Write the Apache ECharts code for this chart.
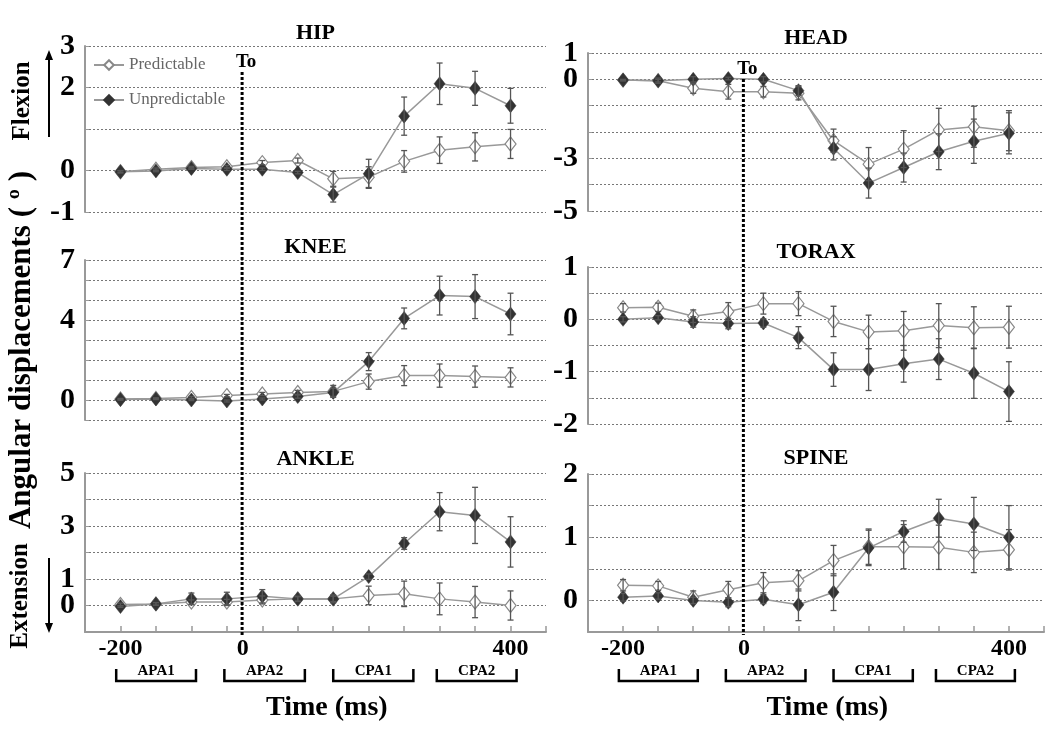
<!DOCTYPE html>
<html><head><meta charset="utf-8">
<script src="https://cdn.jsdelivr.net/npm/echarts@6/dist/echarts.min.js"></script>
<style>html,body{margin:0;padding:0;background:#fff}#c{width:1050px;height:738px}</style>
</head><body><div id="c"></div>
<script>
// ---- data ----
const samples = [0, 1, 2, 3, 4, 5, 6, 7, 8, 9, 10, 11];
const timeTickLabels = ['-200', '0', '400'];
const timeTickPos = [0, 3.45, 11];
const onsetPos = 3.43;
const phaseNames = ['APA1', 'APA2', 'CPA1', 'CPA2'];
const phaseStart = [-0.12, 2.93, 6.0, 8.92];
const phaseEnd = [2.13, 5.2, 8.26, 11.17];

const hipPred = [-0.03, 0.03, 0.07, 0.09, 0.19, 0.24, -0.2, -0.16, 0.22, 0.49, 0.57, 0.64];
const hipPredErr = [0.03, 0.03, 0.03, 0.03, 0.05, 0.06, 0.18, 0.25, 0.26, 0.32, 0.34, 0.35];
const hipUnp = [-0.03, -0.01, 0.05, 0.03, 0.03, -0.05, -0.58, -0.08, 1.31, 2.09, 1.98, 1.56];
const hipUnpErr = [0.02, 0.02, 0.02, 0.03, 0.03, 0.03, 0.18, 0.35, 0.46, 0.5, 0.41, 0.42];

const kneePred = [0.05, 0.08, 0.13, 0.22, 0.3, 0.38, 0.43, 0.92, 1.22, 1.22, 1.17, 1.13];
const kneePredErr = [0.03, 0.03, 0.05, 0.06, 0.08, 0.1, 0.3, 0.38, 0.5, 0.58, 0.53, 0.48];
const kneeUnp = [0.02, 0.05, 0, -0.05, 0.05, 0.17, 0.38, 1.92, 4.08, 5.22, 5.17, 4.3];
const kneeUnpErr = [0.03, 0.03, 0.03, 0.05, 0.05, 0.08, 0.2, 0.45, 0.52, 0.97, 1.1, 1.04];

const anklePred = [0.04, 0.06, 0.13, 0.13, 0.21, 0.25, 0.25, 0.38, 0.44, 0.25, 0.13, 0];
const anklePredErr = [0.05, 0.05, 0.08, 0.1, 0.15, 0.08, 0.1, 0.35, 0.48, 0.6, 0.59, 0.55];
const ankleUnp = [-0.04, 0.06, 0.25, 0.25, 0.35, 0.25, 0.25, 1.09, 2.34, 3.54, 3.4, 2.4];
const ankleUnpErr = [0.03, 0.05, 0.22, 0.25, 0.25, 0.1, 0.15, 0.1, 0.22, 0.72, 1.06, 0.95];

const headPred = [-0.03, -0.05, -0.34, -0.47, -0.47, -0.53, -2.33, -3.22, -2.65, -1.92, -1.8, -1.95];
const headPredErr = [0.03, 0.05, 0.19, 0.28, 0.2, 0.25, 0.44, 0.63, 0.7, 0.82, 0.78, 0.76];
const headUnp = [-0.03, -0.05, 0, 0.03, 0, -0.43, -2.62, -3.94, -3.35, -2.75, -2.35, -2.05];
const headUnpErr = [0.02, 0.1, 0.1, 0.05, 0.1, 0.19, 0.44, 0.57, 0.55, 0.68, 0.84, 0.78];

const toraxPred = [0.22, 0.23, 0.06, 0.15, 0.3, 0.3, -0.04, -0.24, -0.22, -0.12, -0.16, -0.15];
const toraxPredErr = [0.08, 0.08, 0.12, 0.17, 0.2, 0.23, 0.29, 0.32, 0.37, 0.42, 0.4, 0.4];
const toraxUnp = [0, 0.03, -0.05, -0.08, -0.07, -0.35, -0.96, -0.96, -0.85, -0.76, -1.03, -1.38];
const toraxUnpErr = [0.05, 0.04, 0.1, 0.1, 0.08, 0.21, 0.32, 0.4, 0.35, 0.39, 0.48, 0.57];

const spinePred = [0.24, 0.23, 0.05, 0.17, 0.28, 0.31, 0.63, 0.85, 0.85, 0.84, 0.76, 0.8];
const spinePredErr = [0.09, 0.07, 0.1, 0.13, 0.16, 0.16, 0.24, 0.28, 0.35, 0.35, 0.32, 0.32];
const spineUnp = [0.05, 0.07, 0, -0.03, 0.02, -0.07, 0.13, 0.83, 1.09, 1.3, 1.21, 1.0];
const spineUnpErr = [0.06, 0.05, 0.05, 0.07, 0.07, 0.25, 0.29, 0.28, 0.17, 0.3, 0.42, 0.5];

const hipTicks = [3, 2, 0, -1];
const kneeTicks = [7, 4, 0];
const ankleTicks = [5, 3, 1, 0];
const headTicks = [1, 0, -3, -5];
const toraxTicks = [1, 0, -1, -2];
const spineTicks = [2, 1, 0];

// ---- layout ----
const SERIF = '"Liberation Serif","Times New Roman",serif';
const L = {left: 85, width: 461};
const R = {left: 588, width: 456};
const panels = [
  {title: 'HIP',   g: {...L, top: 46,  height: 166}, min: -1, max: 3, step: 1, ticks: hipTicks, p: hipPred, pe: hipPredErr, u: hipUnp, ue: hipUnpErr, bottom: false, ty: 33},
  {title: 'KNEE',  g: {...L, top: 260, height: 160}, min: -1, max: 7, step: 1, ticks: kneeTicks, p: kneePred, pe: kneePredErr, u: kneeUnp, ue: kneeUnpErr, bottom: false, ty: 247},
  {title: 'ANKLE', g: {...L, top: 473, height: 159}, min: -1, max: 5, step: 1, ticks: ankleTicks, p: anklePred, pe: anklePredErr, u: ankleUnp, ue: ankleUnpErr, bottom: true, ty: 459},
  {title: 'HEAD',  g: {...R, top: 53,  height: 158}, min: -5, max: 1, step: 1, ticks: headTicks, p: headPred, pe: headPredErr, u: headUnp, ue: headUnpErr, bottom: false, ty: 38},
  {title: 'TORAX', g: {...R, top: 267, height: 157}, min: -2, max: 1, step: 0.5, ticks: toraxTicks, p: toraxPred, pe: toraxPredErr, u: toraxUnp, ue: toraxUnpErr, bottom: false, ty: 252},
  {title: 'SPINE', g: {...R, top: 474, height: 158}, min: -0.5, max: 2, step: 0.5, ticks: spineTicks, p: spinePred, pe: spinePredErr, u: spineUnp, ue: spineUnpErr, bottom: true, ty: 458}
];

const chart = echarts.init(document.getElementById('c'), null, {renderer: 'canvas'});

function errRender(params, api) {
  const x = api.value(0), lo = api.value(1), hi = api.value(2);
  const a = api.coord([x, lo]), b = api.coord([x, hi]);
  const w = 3, st = {stroke: '#555', lineWidth: 1.3};
  return {type: 'group', children: [
    {type: 'line', shape: {x1: a[0], y1: a[1], x2: b[0], y2: b[1]}, style: st},
    {type: 'line', shape: {x1: a[0] - w, y1: a[1], x2: a[0] + w, y2: a[1]}, style: st},
    {type: 'line', shape: {x1: b[0] - w, y1: b[1], x2: b[0] + w, y2: b[1]}, style: st}
  ]};
}

const grids = [], xAxes = [], yAxes = [], series = [];
panels.forEach((P, i) => {
  grids.push({left: P.g.left, top: P.g.top, width: P.g.width, height: P.g.height});
  xAxes.push({
    type: 'value', gridIndex: i, min: -1, max: 12, interval: 1,
    axisLine: {show: P.bottom, onZero: false, lineStyle: {color: '#999', width: 2}},
    axisTick: {show: P.bottom, inside: true, length: 6, lineStyle: {color: '#999', width: 1.5}},
    axisLabel: {show: P.bottom, customValues: timeTickPos, margin: 5, showMinLabel: true, showMaxLabel: true,
      formatter: v => { let k = 0, d = 1e9; timeTickPos.forEach((t, j) => { if (Math.abs(t - v) < d) { d = Math.abs(t - v); k = j; } }); return timeTickLabels[k]; },
      fontFamily: SERIF, fontWeight: 'bold', fontSize: 24, color: '#000'},
    splitLine: {show: false}
  });
  yAxes.push({
    type: 'value', gridIndex: i, min: P.min, max: P.max, interval: P.step,
    axisLine: {show: true, onZero: false, lineStyle: {color: '#999', width: 2}},
    axisTick: {show: true, inside: true, length: 4, lineStyle: {color: '#999'}},
    axisLabel: {show: false},
    splitLine: {show: true, lineStyle: {color: '#777', width: 1, type: [2, 2]}}
  });
  series.push({
    name: 'Predictable', type: 'line', xAxisIndex: i, yAxisIndex: i,
    data: samples.map((s, k) => [s, P.p[k]]),
    symbol: 'diamond', symbolSize: [11, 14],
    lineStyle: {color: '#999', width: 1.5},
    itemStyle: {color: '#fff', borderColor: '#888', borderWidth: 1.2},
    z: 3
  });
  series.push({
    name: 'Unpredictable', type: 'line', xAxisIndex: i, yAxisIndex: i,
    data: samples.map((s, k) => [s, P.u[k]]),
    symbol: 'diamond', symbolSize: [11, 14],
    lineStyle: {color: '#999', width: 1.5},
    itemStyle: {color: '#333', borderColor: '#333', borderWidth: 0.5},
    z: 4
  });
  series.push({
    type: 'custom', xAxisIndex: i, yAxisIndex: i, renderItem: errRender, z: 5,
    encode: {x: 0, y: [1, 2]},
    data: samples.map((s, k) => [s, P.p[k] - P.pe[k], P.p[k] + P.pe[k]])
  });
  series.push({
    type: 'custom', xAxisIndex: i, yAxisIndex: i, renderItem: errRender, z: 5,
    encode: {x: 0, y: [1, 2]},
    data: samples.map((s, k) => [s, P.u[k] - P.ue[k], P.u[k] + P.ue[k]])
  });
});

chart.setOption({
  animation: false,
  backgroundColor: '#fff',
  grid: grids, xAxis: xAxes, yAxis: yAxes, series: series,
  legend: {
    data: ['Predictable', 'Unpredictable'], orient: 'vertical', left: 93, top: 56, padding: 0,
    itemWidth: 30, itemHeight: 12, itemGap: 17,
    textStyle: {fontFamily: SERIF, fontSize: 17, color: '#666', lineHeight: 18}
  }
});

// ---- annotations derived from axes ----
const px = (g, v) => chart.convertToPixel({gridIndex: g}, v);
const gr = [];
panels.forEach((P, i) => {
  gr.push({type: 'text', x: P.g.left + P.g.width / 2, y: P.ty,
    style: {text: P.title, font: 'bold 22px ' + SERIF, fill: '#000', align: 'center', verticalAlign: 'middle'}});
  // y tick labels placed through the axis scale
  P.ticks.forEach(t => {
    const p = px(i, [-1, t]);
    gr.push({type: 'text', x: p[0] - 10, y: p[1],
      style: {text: String(t), font: 'bold 30px ' + SERIF, fill: '#000', align: 'right', verticalAlign: 'middle'}});
  });
});
[[0, 2], [3, 5]].forEach(([topG, botG]) => {
  const xTo = px(topG, [onsetPos, 0])[0];
  const yTop = panels[topG].g.top + 26;
  const yBot = panels[botG].g.top + panels[botG].g.height + 3;
  gr.push({type: 'line', shape: {x1: xTo, y1: yTop, x2: xTo, y2: yBot},
    style: {stroke: '#000', lineWidth: 3, lineDash: [3, 2]}, z: 10});
  gr.push({type: 'text', x: xTo + 4, y: panels[topG].g.top + 16,
    style: {text: 'To', font: 'bold 19px ' + SERIF, fill: '#000', align: 'center', verticalAlign: 'middle'}, z: 10});
  const yAxisB = panels[botG].g.top + panels[botG].g.height;
  phaseNames.forEach((nm, k) => {
    const x1 = px(botG, [phaseStart[k], 0])[0], x2 = px(botG, [phaseEnd[k], 0])[0];
    gr.push({type: 'polyline', shape: {points: [[x1, yAxisB + 37], [x1, yAxisB + 49], [x2, yAxisB + 49], [x2, yAxisB + 37]]},
      style: {stroke: '#000', lineWidth: 2.5, fill: null}});
    gr.push({type: 'text', x: (x1 + x2) / 2, y: yAxisB + 39,
      style: {text: nm, font: 'bold 15px ' + SERIF, fill: '#000', align: 'center', verticalAlign: 'middle'}});
  });
  const xm = px(botG, [5.82, 0])[0];
  gr.push({type: 'text', x: xm, y: yAxisB + 76,
    style: {text: 'Time (ms)', font: 'bold 28px ' + SERIF, fill: '#000', align: 'center', verticalAlign: 'middle'}});
});
// vertical axis title and direction hints
gr.push({type: 'text', x: 22, y: 350, rotation: Math.PI / 2,
  style: {text: 'Angular displacements ( º )', font: 'bold 31px ' + SERIF, fill: '#000', align: 'center', verticalAlign: 'middle'}});
gr.push({type: 'text', x: 23, y: 101, rotation: Math.PI / 2,
  style: {text: 'Flexion', font: 'bold 25px ' + SERIF, fill: '#000', align: 'center', verticalAlign: 'middle'}});
gr.push({type: 'text', x: 21, y: 596, rotation: Math.PI / 2,
  style: {text: 'Extension', font: 'bold 25px ' + SERIF, fill: '#000', align: 'center', verticalAlign: 'middle'}});
gr.push({type: 'line', shape: {x1: 49, y1: 137, x2: 49, y2: 58}, style: {stroke: '#000', lineWidth: 2}});
gr.push({type: 'polygon', shape: {points: [[49, 50], [45, 60], [53, 60]]}, style: {fill: '#000'}});
gr.push({type: 'line', shape: {x1: 49, y1: 558, x2: 49, y2: 625}, style: {stroke: '#000', lineWidth: 2}});
gr.push({type: 'polygon', shape: {points: [[49, 633], [45, 623], [53, 623]]}, style: {fill: '#000'}});

chart.setOption({graphic: gr});
</script>
</body></html>
